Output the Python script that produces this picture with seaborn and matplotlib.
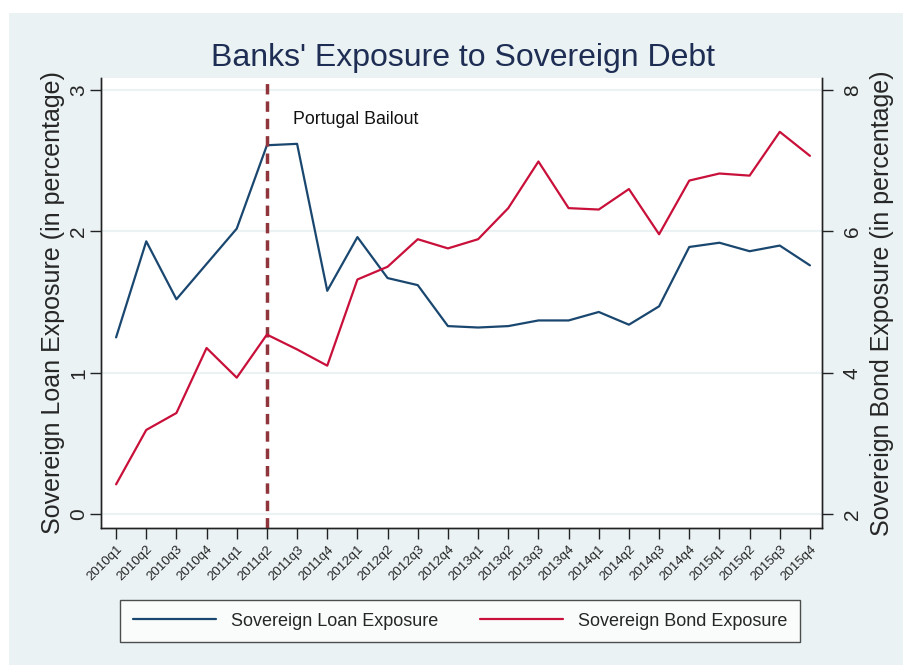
import matplotlib
matplotlib.use("Agg")
import matplotlib.pyplot as plt
import seaborn as sns
import pandas as pd
from matplotlib.patches import Rectangle

quarters = ["2010q1", "2010q2", "2010q3", "2010q4", "2011q1", "2011q2", "2011q3", "2011q4",
            "2012q1", "2012q2", "2012q3", "2012q4", "2013q1", "2013q2", "2013q3", "2013q4",
            "2014q1", "2014q2", "2014q3", "2014q4", "2015q1", "2015q2", "2015q3", "2015q4"]
loan_exposure = [1.25, 1.93, 1.52, 1.77, 2.02, 2.61, 2.62, 1.58, 1.96, 1.67, 1.62, 1.33,
                 1.32, 1.33, 1.37, 1.37, 1.43, 1.34, 1.47, 1.89, 1.92, 1.86, 1.90, 1.76]
bond_exposure = [2.42, 3.19, 3.43, 4.35, 3.93, 4.54, 4.33, 4.10, 5.32, 5.50, 5.89, 5.76,
                 5.89, 6.33, 6.99, 6.33, 6.31, 6.60, 5.96, 6.72, 6.82, 6.79, 7.41, 7.07]
event_quarter = "2011q2"
event_label = "Portugal Bailout"

df = pd.DataFrame({"q": range(len(quarters)), "loan": loan_exposure, "bond": bond_exposure})

sns.set_style("white")
plt.rcParams["font.family"] = ["Liberation Sans", "DejaVu Sans"]

BG = "#EAF2F3"
BLUE = "#1A476F"
RED = "#C8103A"
MAROON = "#90353B"

fig = plt.figure(figsize=(9.04, 6.65), dpi=100, facecolor="white")
fig.patches.append(Rectangle((9 / 904, 0), 1, 1 - 13 / 665, transform=fig.transFigure,
                             facecolor=BG, edgecolor="none", zorder=-10))

ax = fig.add_axes([101 / 904, 1 - 528 / 665, (822 - 101) / 904, (528 - 78) / 665])
ax.set_facecolor("white")
ax2 = ax.twinx()

sns.lineplot(data=df, x="q", y="loan", ax=ax, color=BLUE, linewidth=1.6,
             label="Sovereign Loan Exposure", legend=False)
sns.lineplot(data=df, x="q", y="bond", ax=ax2, color=RED, linewidth=1.6,
             label="Sovereign Bond Exposure", legend=False)

ax.set_xlim(-0.5, 23.4)
ax.set_ylim(-0.099, 3.086)
ax2.set_ylim(1.802, 8.172)
ax.set_yticks([0, 1, 2, 3])
ax2.set_yticks([2, 4, 6, 8])
ax.set_xticks(range(len(quarters)))
ax.set_xticklabels(quarters, rotation=45, ha="right", rotation_mode="anchor", fontsize=9.5)

for y in [0, 1, 2, 3]:
    ax.axhline(y, color=BG, linewidth=1.5, zorder=0)

ev = quarters.index(event_quarter)
ax.axvline(ev, color=MAROON, linewidth=2.5, dashes=(3, 2), zorder=3)
ax.text(ev + 0.87, 2.79, event_label, fontsize=12.8, ha="left", va="center", color="#111111")

ax.set_xlabel("")
ax.set_ylabel("Sovereign Loan Exposure (in percentage)", fontsize=18, labelpad=3)
ax2.set_ylabel("Sovereign Bond Exposure (in percentage)", fontsize=18, labelpad=6)

for a in (ax, ax2):
    a.spines["top"].set_visible(False)
    for s in ("left", "right", "bottom"):
        a.spines[s].set_color("#222222")
        a.spines[s].set_linewidth(1.0)
ax.tick_params(axis="y", which="both", left=True, length=8, width=1, labelsize=15,
               color="#222222", pad=1, labelrotation=90)
ax.tick_params(axis="x", which="both", bottom=True, length=8, width=1, color="#222222", pad=3)
ax2.tick_params(axis="y", which="both", right=True, length=8, width=1, labelsize=15,
                color="#222222", pad=7, labelrotation=90)
for lab in ax.get_yticklabels() + ax2.get_yticklabels():
    lab.set_va("center")
ax2.grid(False)
ax.grid(False)

fig.text(463 / 904, 1 - 58 / 665, "Banks' Exposure to Sovereign Debt", fontsize=23,
         ha="center", va="center", color="#1E2D53")

h1, l1 = ax.get_legend_handles_labels()
h2, l2 = ax2.get_legend_handles_labels()
leg = fig.legend(h1 + h2, l1 + l2, loc="upper left",
                 bbox_to_anchor=(120 / 904, 1 - 600 / 665),
                 ncol=2, fontsize=13, frameon=True, fancybox=False,
                 handlelength=4.6, handletextpad=0.85, columnspacing=2.3,
                 borderaxespad=0, borderpad=0.7)
leg.get_frame().set_edgecolor("#222222")
leg.get_frame().set_linewidth(1.0)
leg.get_frame().set_facecolor("white")

fig.savefig("out.png", dpi=100, facecolor=fig.get_facecolor())
